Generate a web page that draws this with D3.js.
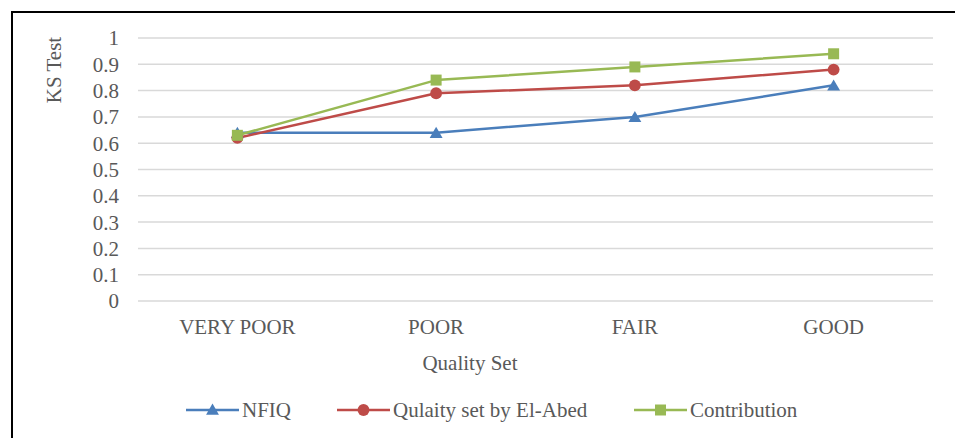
<!DOCTYPE html>
<html>
<head>
<meta charset="utf-8">
<script src="https://cdn.jsdelivr.net/npm/d3@7"></script>
<style>
  html, body { margin: 0; padding: 0; background: #fff; }
  svg { display: block; }
  text { font-family: "Liberation Serif", "Times New Roman", serif; fill: #595959; }
</style>
</head>
<body>
<script>
// Quality sets along the x axis
const categories = ["VERY POOR", "POOR", "FAIR", "GOOD"];
// KS test results per method
const nfiq = [0.64, 0.64, 0.70, 0.82];
const elAbed = [0.62, 0.79, 0.82, 0.88];
const contribution = [0.63, 0.84, 0.89, 0.94];
const yTicks = [0, 0.1, 0.2, 0.3, 0.4, 0.5, 0.6, 0.7, 0.8, 0.9, 1];
const seriesNames = ["NFIQ", "Qulaity set by El-Abed", "Contribution"];

const W = 955, H = 438;
const plot = { left: 138, right: 933, top: 38, bottom: 301 };
const FS = "21px";

const svg = d3.select("body").append("svg").attr("width", W).attr("height", H);

// frame: top and left edges
svg.append("line").attr("x1", 11).attr("x2", W).attr("y1", 12).attr("y2", 12)
  .attr("stroke", "#000").attr("stroke-width", 2);
svg.append("line").attr("x1", 12).attr("x2", 12).attr("y1", 11).attr("y2", H)
  .attr("stroke", "#000").attr("stroke-width", 2);

const x = d3.scaleBand().domain(categories).range([plot.left, plot.right]);
const y = d3.scaleLinear().domain([0, 1]).range([plot.bottom, plot.top]);

// horizontal gridlines
svg.append("g").selectAll("line").data(yTicks).join("line")
  .attr("x1", plot.left).attr("x2", plot.right)
  .attr("y1", d => y(d)).attr("y2", d => y(d))
  .attr("stroke", "#d9d9d9").attr("stroke-width", 1.5);

// y axis labels
const yAxis = d3.axisLeft(y).tickValues(yTicks).tickSize(0).tickPadding(0)
  .tickFormat(d => d3.format("")(+d.toFixed(1)));
const yg = svg.append("g").attr("transform", `translate(${plot.left - 19},0)`).call(yAxis);
yg.select(".domain").remove();
yg.selectAll("text").style("font-size", FS).attr("fill", "#595959")
  .attr("font-family", "Liberation Serif").attr("dy", "0.33em");

// x axis labels
const xAxis = d3.axisBottom(x).tickSize(0).tickPadding(0);
const xg = svg.append("g").attr("transform", `translate(0,${plot.bottom + 18})`).call(xAxis);
xg.select(".domain").remove();
xg.selectAll("text").style("font-size", FS).attr("fill", "#595959")
  .attr("font-family", "Liberation Serif").attr("dy", "0.71em");

// axis titles
svg.append("text").attr("transform", "translate(61,70) rotate(-90)")
  .attr("text-anchor", "middle").style("font-size", FS).text("KS Test");
svg.append("text").attr("x", 470).attr("y", 370)
  .attr("text-anchor", "middle").style("font-size", FS).text("Quality Set");

const colors = ["#4a7ebb", "#be4b48", "#98b954"];
const data = [nfiq, elAbed, contribution];
const shapes = [d3.symbolTriangle, d3.symbolCircle, d3.symbolSquare];
const sizes = [72, 110, 121];

const line = d3.line().x((d, i) => x(categories[i]) + x.bandwidth() / 2).y(d => y(d));

data.forEach((vals, s) => {
  svg.append("path").datum(vals).attr("d", line)
    .attr("fill", "none").attr("stroke", colors[s]).attr("stroke-width", 2.5)
    .attr("stroke-linejoin", "round");
});
data.forEach((vals, s) => {
  svg.append("g").selectAll("path").data(vals).join("path")
    .attr("transform", (d, i) => `translate(${x(categories[i]) + x.bandwidth() / 2},${y(d) + (s === 0 ? 1.5 : 0)})`)
    .attr("d", d3.symbol().type(shapes[s]).size(sizes[s]))
    .attr("fill", colors[s]);
});

// legend
const legendItems = [
  { x0: 186, name: seriesNames[0] },
  { x0: 337, name: seriesNames[1] },
  { x0: 634, name: seriesNames[2] }
];
const ly = 410;
legendItems.forEach((it, s) => {
  const g = svg.append("g");
  g.append("line").attr("x1", it.x0).attr("x2", it.x0 + 53).attr("y1", ly).attr("y2", ly)
    .attr("stroke", colors[s]).attr("stroke-width", 2.5);
  g.append("path").attr("transform", `translate(${it.x0 + 26.5},${ly + (s === 0 ? 1 : 0)})`)
    .attr("d", d3.symbol().type(shapes[s]).size(sizes[s]))
    .attr("fill", colors[s]);
  g.append("text").attr("x", it.x0 + 56).attr("y", ly).attr("dy", "0.35em")
    .style("font-size", FS).text(it.name);
});
</script>
</body>
</html>
